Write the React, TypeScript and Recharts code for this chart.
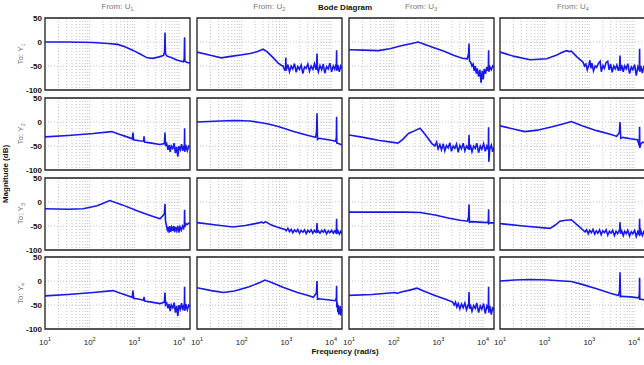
import { CartesianGrid, Line, LineChart, ReferenceArea, XAxis, YAxis } from "recharts";

type Pt = [number, number];

// frequency (rad/s), magnitude (dB)
const y1u1: Pt[] = [[10,0],[33,0],[120,-1],[255,-3],[424,-5],[612,-10],[912,-17],[1342,-25],[1929,-33],[2575,-34],[3575,-31],[4504,-28],[4729,-20],[4842,20],[4962,-24],[5280,-29],[6855,-33],[9185,-38],[12470,-41],[13020,-35],[13270,10],[13490,-40],[14700,-42],[17530,-44]];
const y1u2: Pt[] = [[10,-21],[21,-28],[35,-33],[57,-30],[95,-27],[153,-24],[228,-20],[300,-15],[367,-20],[510,-33],[657,-44],[783,-49],[836,-50],[912,-58],[958,-55],[972,-33],[987,-60],[1080,-47],[1172,-62],[1280,-50],[1390,-56],[1515,-45],[1657,-63],[1799,-51],[1962,-57],[2138,-48],[2333,-66],[2543,-52],[2775,-55],[3020,-46],[3286,-61],[3575,-50],[3908,-57],[4248,-45],[4589,-58],[4747,-48],[4842,-24],[4962,-55],[5189,-62],[5640,-49],[6155,-58],[6680,-46],[7210,-65],[7925,-51],[8645,-56],[9360,-44],[10265,-62],[11190,-50],[12100,-57],[12840,-47],[13120,-52],[13270,-17],[13430,-60],[14150,-48],[15270,-62],[16400,-50],[17530,-55]];
const y1u3: Pt[] = [[10,-16],[21,-17],[45,-18],[82,-14],[147,-8],[255,-3],[352,0],[438,-3],[687,-10],[1295,-19],[2251,-28],[3405,-34],[4416,-35],[4729,-25],[4842,-3],[4962,-40],[5280,-42],[5640,-50],[5985,-46],[6325,-60],[6680,-50],[7030,-66],[7390,-55],[7925,-72],[8465,-58],[9000,-85],[9545,-60],[10090,-78],[10625,-56],[11370,-66],[12100,-52],[12740,-60],[13120,-55],[13270,-17],[13430,-62],[14150,-52],[15270,-58],[16400,-50],[17530,-54]];
const y1u4: Pt[] = [[10,-21],[21,-30],[47,-37],[111,-35],[187,-27],[255,-21],[310,-18],[352,-20],[395,-19],[540,-32],[723,-42],[776,-50],[836,-46],[896,-58],[972,-48],[1026,-38],[1080,-55],[1140,-44],[1234,-60],[1342,-50],[1452,-53],[1578,-45],[1738,-40],[1848,-62],[2008,-49],[2169,-55],[2349,-43],[2575,-40],[2761,-58],[2990,-46],[3236,-63],[3508,-50],[3794,-56],[4115,-48],[4448,-60],[4729,-50],[4842,-28],[4962,-60],[5280,-48],[5720,-62],[6155,-50],[6680,-56],[7210,-45],[7925,-66],[8645,-52],[9360,-58],[10265,-47],[11190,-70],[12100,-52],[12840,-58],[13120,-50],[13270,-14],[13430,-62],[14150,-50],[15270,-65],[16400,-52],[17530,-56]];

const y2u1: Pt[] = [[10,-31],[33,-28],[120,-24],[310,-20],[438,-25],[687,-31],[896,-35],[927,-22],[958,-37],[1295,-39],[1610,-40],[1642,-30],[1690,-42],[2415,-44],[3741,-47],[4677,-45],[4842,-22],[4962,-50],[5280,-45],[5640,-58],[5985,-48],[6325,-62],[6680,-50],[7210,-55],[7745,-44],[8285,-65],[8825,-52],[9360,-72],[9910,-50],[10625,-58],[11370,-46],[12100,-60],[12740,-50],[13120,-55],[13270,-13],[13430,-62],[14150,-48],[15270,-60],[16400,-50],[17530,-52]];
const y2u2: Pt[] = [[10,0],[33,2],[69,3],[153,2],[255,-1],[395,-4],[687,-10],[1452,-20],[3072,-28],[4504,-32],[4729,-20],[4842,18],[4962,-36],[5280,-34],[7390,-36],[10090,-38],[12650,-40],[13120,-32],[13270,11],[13430,-44],[14700,-45],[17530,-48]];
const y2u3: Pt[] = [[10,-27],[21,-32],[45,-38],[124,-44],[160,-36],[214,-24],[297,-18],[388,-13],[467,-22],[583,-34],[716,-45],[836,-50],[912,-42],[987,-56],[1080,-47],[1172,-58],[1280,-45],[1390,-60],[1515,-49],[1657,-54],[1799,-43],[1962,-61],[2138,-50],[2333,-55],[2543,-46],[2775,-63],[3020,-49],[3286,-56],[3575,-44],[3908,-60],[4248,-50],[4589,-55],[4747,-48],[4842,-27],[4962,-58],[5189,-47],[5640,-62],[6155,-50],[6680,-55],[7210,-44],[7925,-64],[8645,-50],[9360,-57],[10265,-45],[11190,-61],[12100,-50],[12840,-56],[13120,-50],[13270,-11],[13430,-83],[14150,-55],[15270,-48],[16400,-62],[17530,-52]];
const y2u4: Pt[] = [[10,-8],[21,-15],[36,-20],[69,-17],[147,-10],[255,-4],[395,1],[687,-8],[1452,-18],[3072,-26],[4081,-30],[4677,-22],[4842,0],[5015,-34],[5640,-32],[8285,-35],[11915,-37],[12650,-45],[13120,-40],[13270,-10],[13430,-54],[14150,-45],[15640,-42],[17530,-44]];

const y3u1: Pt[] = [[10,-14],[33,-15],[71,-14],[147,-8],[282,3],[540,-6],[1140,-18],[2251,-28],[3741,-35],[4677,-25],[4842,-4],[4962,-40],[5189,-48],[5455,-58],[5720,-52],[5985,-64],[6240,-50],[6505,-62],[6855,-53],[7210,-60],[7570,-50],[7925,-63],[8285,-52],[8825,-60],[9360,-50],[9910,-64],[10445,-52],[11190,-59],[11915,-50],[12650,-55],[13120,-48],[13270,-16],[13430,-52],[14150,-45],[15270,-47],[16400,-44],[17530,-45]];
const y3u2: Pt[] = [[10,-43],[27,-48],[64,-52],[120,-49],[200,-45],[282,-42],[310,-44],[339,-41],[438,-47],[612,-52],[927,-57],[987,-60],[1080,-55],[1172,-62],[1280,-57],[1390,-64],[1515,-58],[1657,-62],[1799,-57],[1962,-65],[2138,-59],[2333,-63],[2543,-58],[2775,-66],[3020,-59],[3286,-63],[3575,-58],[3908,-65],[4248,-59],[4589,-63],[4747,-58],[4842,-44],[4962,-64],[5189,-60],[5640,-65],[6155,-59],[6680,-63],[7210,-58],[7925,-66],[8645,-60],[9360,-64],[10265,-59],[11190,-65],[12100,-60],[12840,-64],[13120,-60],[13270,-35],[13430,-66],[14150,-60],[15270,-67],[16400,-61],[17530,-66]];
const y3u3: Pt[] = [[10,-21],[57,-21],[187,-21],[395,-22],[836,-27],[1767,-34],[3072,-38],[4504,-40],[4729,-30],[4842,-5],[4962,-42],[5455,-41],[8285,-42],[12650,-43],[13120,-38],[13270,-15],[13430,-45],[14700,-43],[17530,-44]];
const y3u4: Pt[] = [[10,-45],[33,-50],[131,-55],[173,-48],[219,-40],[297,-38],[395,-37],[540,-48],[799,-62],[865,-58],[942,-66],[1018,-59],[1110,-64],[1203,-57],[1312,-67],[1420,-60],[1545,-65],[1690,-58],[1832,-68],[1992,-60],[2169,-64],[2366,-58],[2575,-69],[2808,-61],[3055,-65],[3317,-59],[3625,-70],[3943,-61],[4282,-66],[4589,-60],[4747,-58],[4842,-42],[4962,-66],[5280,-60],[5720,-70],[6155,-61],[6680,-66],[7210,-59],[7925,-71],[8645,-62],[9360,-66],[10265,-59],[11190,-72],[12100,-62],[12840,-67],[13120,-60],[13270,-35],[13430,-70],[14150,-60],[15270,-70],[16400,-62],[17530,-68]];

const y4u1: Pt[] = [[10,-31],[33,-28],[120,-24],[332,-20],[438,-24],[687,-30],[896,-34],[927,-20],[958,-36],[1295,-38],[1610,-40],[1642,-33],[1690,-42],[2415,-44],[3741,-47],[4677,-44],[4842,-24],[4962,-50],[5280,-46],[5640,-57],[5985,-48],[6325,-63],[6680,-50],[7210,-56],[7745,-45],[8285,-66],[8825,-52],[9360,-73],[9910,-50],[10625,-59],[11370,-46],[12100,-61],[12740,-50],[13120,-56],[13270,-12],[13430,-62],[14150,-48],[15270,-60],[16400,-50],[17530,-53]];
const y4u2: Pt[] = [[10,-14],[21,-20],[39,-24],[69,-21],[147,-12],[255,-3],[332,2],[467,-3],[836,-13],[1767,-24],[3072,-30],[4011,-34],[4677,-25],[4842,0],[4962,-38],[5280,-37],[8285,-39],[12470,-41],[13120,-35],[13270,-10],[13430,-55],[13770,-45],[14150,-65],[14520,-50],[14890,-70],[15270,-55],[15640,-68],[16030,-52],[16400,-72],[16770,-58],[17140,-66],[17530,-60]];
const y4u3: Pt[] = [[10,-30],[33,-28],[82,-25],[107,-24],[120,-26],[147,-23],[228,-19],[334,-15],[467,-21],[836,-30],[1452,-38],[2089,-44],[2251,-50],[2415,-44],[2575,-54],[2775,-47],[3020,-58],[3286,-48],[3575,-56],[3908,-46],[4248,-60],[4589,-50],[4747,-48],[4842,-23],[4962,-58],[5189,-49],[5640,-63],[6155,-51],[6680,-57],[7210,-46],[7925,-66],[8645,-52],[9360,-59],[10265,-47],[11190,-68],[12100,-52],[12840,-58],[13120,-50],[13270,-12],[13430,-66],[14150,-52],[15270,-70],[16400,-54],[17530,-62]];
const y4u4: Pt[] = [[10,0],[21,2],[47,3],[120,2],[255,0],[395,-1],[687,-7],[1452,-16],[3072,-26],[4504,-30],[4729,-20],[4842,18],[4962,-33],[5280,-32],[8285,-33],[12650,-35],[13120,-28],[13270,7],[13430,-38],[14700,-38],[17530,-40]];

const panels: Pt[][][] = [
  [y1u1, y1u2, y1u3, y1u4],
  [y2u1, y2u2, y2u3, y2u4],
  [y3u1, y3u2, y3u3, y3u4],
  [y4u1, y4u2, y4u3, y4u4],
];

const inputNames = ["1", "2", "3", "4"];
const outputNames = ["1", "2", "3", "4"];
const freqTicks = [10, 20, 30, 40, 50, 60, 70, 80, 90, 100, 200, 300, 400, 500, 600, 700, 800, 900, 1000, 2000, 3000, 4000, 5000, 6000, 7000, 8000, 9000, 10000];
const decades = [10, 100, 1000, 10000];
const magTicks = [-100, -50, 0, 50];
const freqRange = [10, 17530];

const FONT = "'Liberation Sans', Arial, sans-serif";
const PW = 145;
const PH = 72;
const YW = 32;
const XH = 20;
const TOP = 6;
const colLeft = (c: number) => 45 + c * 151.8;
const rowTop = (r: number) => 18 + r * 79.8;

function FreqTick(props: any) {
  const { x, y, payload, show } = props;
  const i = decades.indexOf(payload.value);
  if (!show || i < 0) return <g />;
  return (
    <text x={x} y={y + 8} textAnchor="middle" fontSize={8} fill="#222" fontFamily={FONT}>
      10<tspan dy={-4} fontSize={5.5}>{i + 1}</tspan>
    </text>
  );
}

function MagTick(props: any) {
  const { x, y, payload, show } = props;
  if (!show) return <g />;
  return (
    <text x={x} y={y + 3} textAnchor="end" fontSize={8} fontWeight="bold" fill="#111" fontFamily={FONT}>
      {payload.value}
    </text>
  );
}

function Panel({ pts, r, c }: { pts: Pt[]; r: number; c: number }) {
  const data = pts.map(([f, v]) => ({ f, v }));
  return (
    <div style={{ position: "absolute", left: colLeft(c) - YW, top: rowTop(r) - TOP }}>
      <LineChart width={YW + PW + 2} height={TOP + PH + XH} data={data} margin={{ top: TOP, right: 2, bottom: 0, left: 0 }}>
        <CartesianGrid stroke="#c4c4c4" strokeDasharray="1 2" />
        <XAxis
          dataKey="f"
          type="number"
          scale="log"
          domain={freqRange}
          ticks={freqTicks}
          interval={0}
          allowDataOverflow
          height={XH}
          axisLine={false}
          tickLine={false}
          tick={(p: any) => <FreqTick {...p} show={r === 3} />}
        />
        <YAxis
          type="number"
          domain={[-100, 50]}
          ticks={magTicks}
          interval={0}
          allowDataOverflow
          width={YW}
          axisLine={false}
          tickLine={false}
          tickSize={2}
          tickMargin={1}
          tick={(p: any) => <MagTick {...p} show={c === 0} />}
        />
        <Line dataKey="v" type="linear" stroke="#1818e8" strokeWidth={1.6} dot={false} isAnimationActive={false} />
        <ReferenceArea x1={freqRange[0]} x2={freqRange[1]} y1={-100} y2={50} fill="none" stroke="#222" strokeWidth={1.3} ifOverflow="visible" />
      </LineChart>
    </div>
  );
}

export default function App() {
  return (
    <div style={{ position: "absolute", left: 0, top: 0, width: 644, height: 365, overflow: "hidden", background: "#fff" }}>
      <svg width={644} height={365} style={{ position: "absolute", left: 0, top: 0 }} fontFamily={FONT}>
        <text x={345} y={10} textAnchor="middle" fontSize={8} fontWeight="bold" fill="#111">Bode Diagram</text>
        {inputNames.map((n, c) => (
          <text key={n} x={colLeft(c) + PW / 2} y={9} textAnchor="middle" fontSize={8} fill="#777">
            From: U<tspan dy={2} fontSize={5.5}>{n}</tspan>
          </text>
        ))}
        {outputNames.map((n, r) => (
          <text key={n} transform={`translate(23, ${rowTop(r) + PH / 2}) rotate(-90)`} textAnchor="middle" fontSize={8} fill="#777">
            To: Y<tspan dy={2} fontSize={5.5}>{n}</tspan>
          </text>
        ))}
        <text transform="translate(8, 174) rotate(-90)" textAnchor="middle" fontSize={8} fontWeight="bold" fill="#111">Magnitude (dB)</text>
        <text x={345} y={354} textAnchor="middle" fontSize={8} fontWeight="bold" fill="#111">Frequency  (rad/s)</text>
      </svg>
      {panels.map((row, r) => row.map((pts, c) => <Panel key={`${r}-${c}`} pts={pts} r={r} c={c} />))}
    </div>
  );
}
